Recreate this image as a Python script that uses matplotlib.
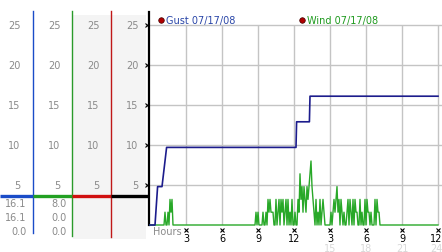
import matplotlib
matplotlib.use('Agg')
import matplotlib.pyplot as plt
import numpy as np
from matplotlib.patches import Rectangle
from matplotlib.transforms import blended_transform_factory

# ---- data (speeds in km/h, times in minutes after midnight) ----
gust_min = [0, 25, 38, 60, 83, 730, 733, 797, 800, 1440]
gust_kmh = [0.0, 0.0, 4.8, 4.8, 9.7, 9.7, 12.9, 12.9, 16.1, 16.1]

# wind sampled every 5 minutes in two gusty periods, calm otherwise
wind_am_start = 65
wind_am = [0, 0, 1.6, 0, 0, 1.6, 0, 3.2, 1.6, 3.2, 0, 0]
wind_pm_start = 520
wind_pm = [0, 0, 1.6, 0, 1.6, 0, 0, 0, 0, 1.6, 0, 0, 1.6, 0, 3.2, 1.6,
           3.2, 1.6, 1.6, 1.6, 0, 0, 3.2, 0, 1.6, 3.2, 0, 3.2, 1.6, 3.2,
           0, 1.6, 3.2, 0, 3.2, 0, 1.6, 0, 3.2, 0, 0, 1.6, 0, 0, 3.2,
           1.6, 6.4, 3.2, 4.8, 1.6, 4.8, 3.2, 1.6, 4.8, 3.2, 4.8, 6.4, 8.0,
           4.8, 3.2, 1.6, 0, 3.2, 0, 1.6, 0, 3.2, 0, 1.6, 3.2, 1.6, 0,
           0, 0, 0, 0, 0, 1.6, 0, 1.6, 3.2, 1.6, 3.2, 4.8, 1.6, 3.2, 0,
           3.2, 1.6, 0, 1.6, 0, 0, 1.6, 3.2, 0, 3.2, 1.6, 0, 3.2, 0, 3.2,
           1.6, 1.6, 0, 0, 3.2, 0, 1.6, 0, 0, 3.2, 0, 3.2, 1.6, 1.6, 0,
           1.6, 0, 0, 0, 3.2, 0, 3.2, 1.6, 1.6, 0, 0, 0]
day_end_min = 1440

yticks = [5, 10, 15, 20, 25]
hour_ticks = [3, 6, 9, 12, 15, 18, 21, 24]
hour_labels = ['3', '6', '9', '12', '3', '6', '9', '12']
hour_labels_24 = ['', '', '', '', '15', '18', '21', '24']

gust_summary = ['16.1', '16.1', '0.0']
wind_summary = ['8.0', '0.0', '0.0']
legend_names = ['Gust 07/17/08', 'Wind 07/17/08']

# ---- colours ----
GUST = '#1c1c8c'
WIND = '#28a828'
GRID = '#c4c4c4'
GRAYTXT = '#8a8a8a'

W, H = 442, 253
fig = plt.figure(figsize=(W / 100, H / 100), dpi=100)
fig.patch.set_facecolor('white')

# overlay in pixel coordinates for the left panel
lp = fig.add_axes([0, 0, 1, 1], zorder=0)
lp.set_xlim(0, W)
lp.set_ylim(H, 0)
lp.axis('off')

# main chart
ax = fig.add_axes([149 / W, 27 / H, 293 / W, 213 / H], zorder=1)
ax.set_facecolor('none')
ax.set_xlim(-1 / 12, (W - 150) / 12)
ax.set_ylim(0, 213 / 8)
for s in ['top', 'right', 'bottom']:
    ax.spines[s].set_visible(False)
ax.spines['left'].set_linewidth(1.6)
ax.spines['left'].set_color('black')
ax.set_xticks([])
ax.set_yticks([])

ax.hlines(yticks, -1 / 12, (W - 150) / 12, color=GRID, lw=1, zorder=1)
ax.vlines(hour_ticks, 0, 25, color=GRID, lw=1, zorder=1)

# wind
am_t = wind_am_start + 5 * np.arange(len(wind_am))
pm_t = wind_pm_start + 5 * np.arange(len(wind_pm))
wind_t = np.concatenate([[0], am_t, pm_t, [day_end_min]]) / 60
wind_v = np.concatenate([[0], wind_am, wind_pm, [0]])
ax.plot(wind_t, wind_v, color=WIND, lw=1, zorder=3, clip_on=False)
ax.plot(np.array(gust_min) / 60, gust_kmh, color=GUST, lw=1.2, zorder=4,
        clip_on=False)

# small tick marks
ax.plot(np.full(len(yticks), -0.25), yticks, 'x', color='black', ms=2.2,
        mew=0.8, clip_on=False)
ax.plot(hour_ticks, np.full(len(hour_ticks), -0.65), 'x', color='black',
        ms=2.2, mew=0.8, clip_on=False)
for h, lab, lab2 in zip(hour_ticks, hour_labels, hour_labels_24):
    hx = h - 0.17 if h == 24 else h
    ax.text(hx, -1.6, lab, ha='center', va='center', fontsize=7,
            color='black', clip_on=False)
    ax.text(hx, -2.85, lab2, ha='center', va='center', fontsize=7,
            color='#d8d8d8', clip_on=False)
ax.text(0.25, -0.75, 'Hours', ha='left', va='center', fontsize=7,
        color=GRAYTXT, clip_on=False)

# legend
for xd, xt, name, col in [(161, 166, legend_names[0], '#2a46a8'),
                          (302, 307, legend_names[1], '#1e9a1e')]:
    lp.plot([xd], [20.5], 'o', ms=4, color='#b00000', mec='#400000', mew=0.5)
    lp.text(xt, 21, name, ha='left', va='center', fontsize=7, color=col)

# left panel
lp.add_patch(Rectangle((73, 16), 73, 224, color='#f4f4f4', lw=0, zorder=0))
lp.plot([33, 33], [12, 234], color='#1a4cc8', lw=1)
lp.plot([72, 72], [12, 237], color='#2a9a2a', lw=1)
lp.plot([111, 111], [12, 238], color='#c01818', lw=1)
for (x0, x1), c in zip([(0, 33), (33, 72), (72, 111), (111, 149)],
                       ['#1a4cc8', '#22a022', '#d01010', 'black']):
    lp.plot([x0, x1], [197, 197], color=c, lw=2.4, solid_capstyle='butt')

trans = blended_transform_factory(lp.transData, ax.transData)
for xr in [20.5, 60.5, 99.5, 138.5]:
    for v in yticks:
        lp.text(xr, v, str(v), transform=trans, ha='right', va='center',
                fontsize=7, color=GRAYTXT)
for i in range(3):
    yy = 204 + 14 * i
    lp.text(26.5, yy, gust_summary[i], ha='right', va='center', fontsize=7,
            color=GRAYTXT)
    lp.text(66.5, yy, wind_summary[i], ha='right', va='center', fontsize=7,
            color=GRAYTXT)

fig.savefig('out.png', dpi=100)
